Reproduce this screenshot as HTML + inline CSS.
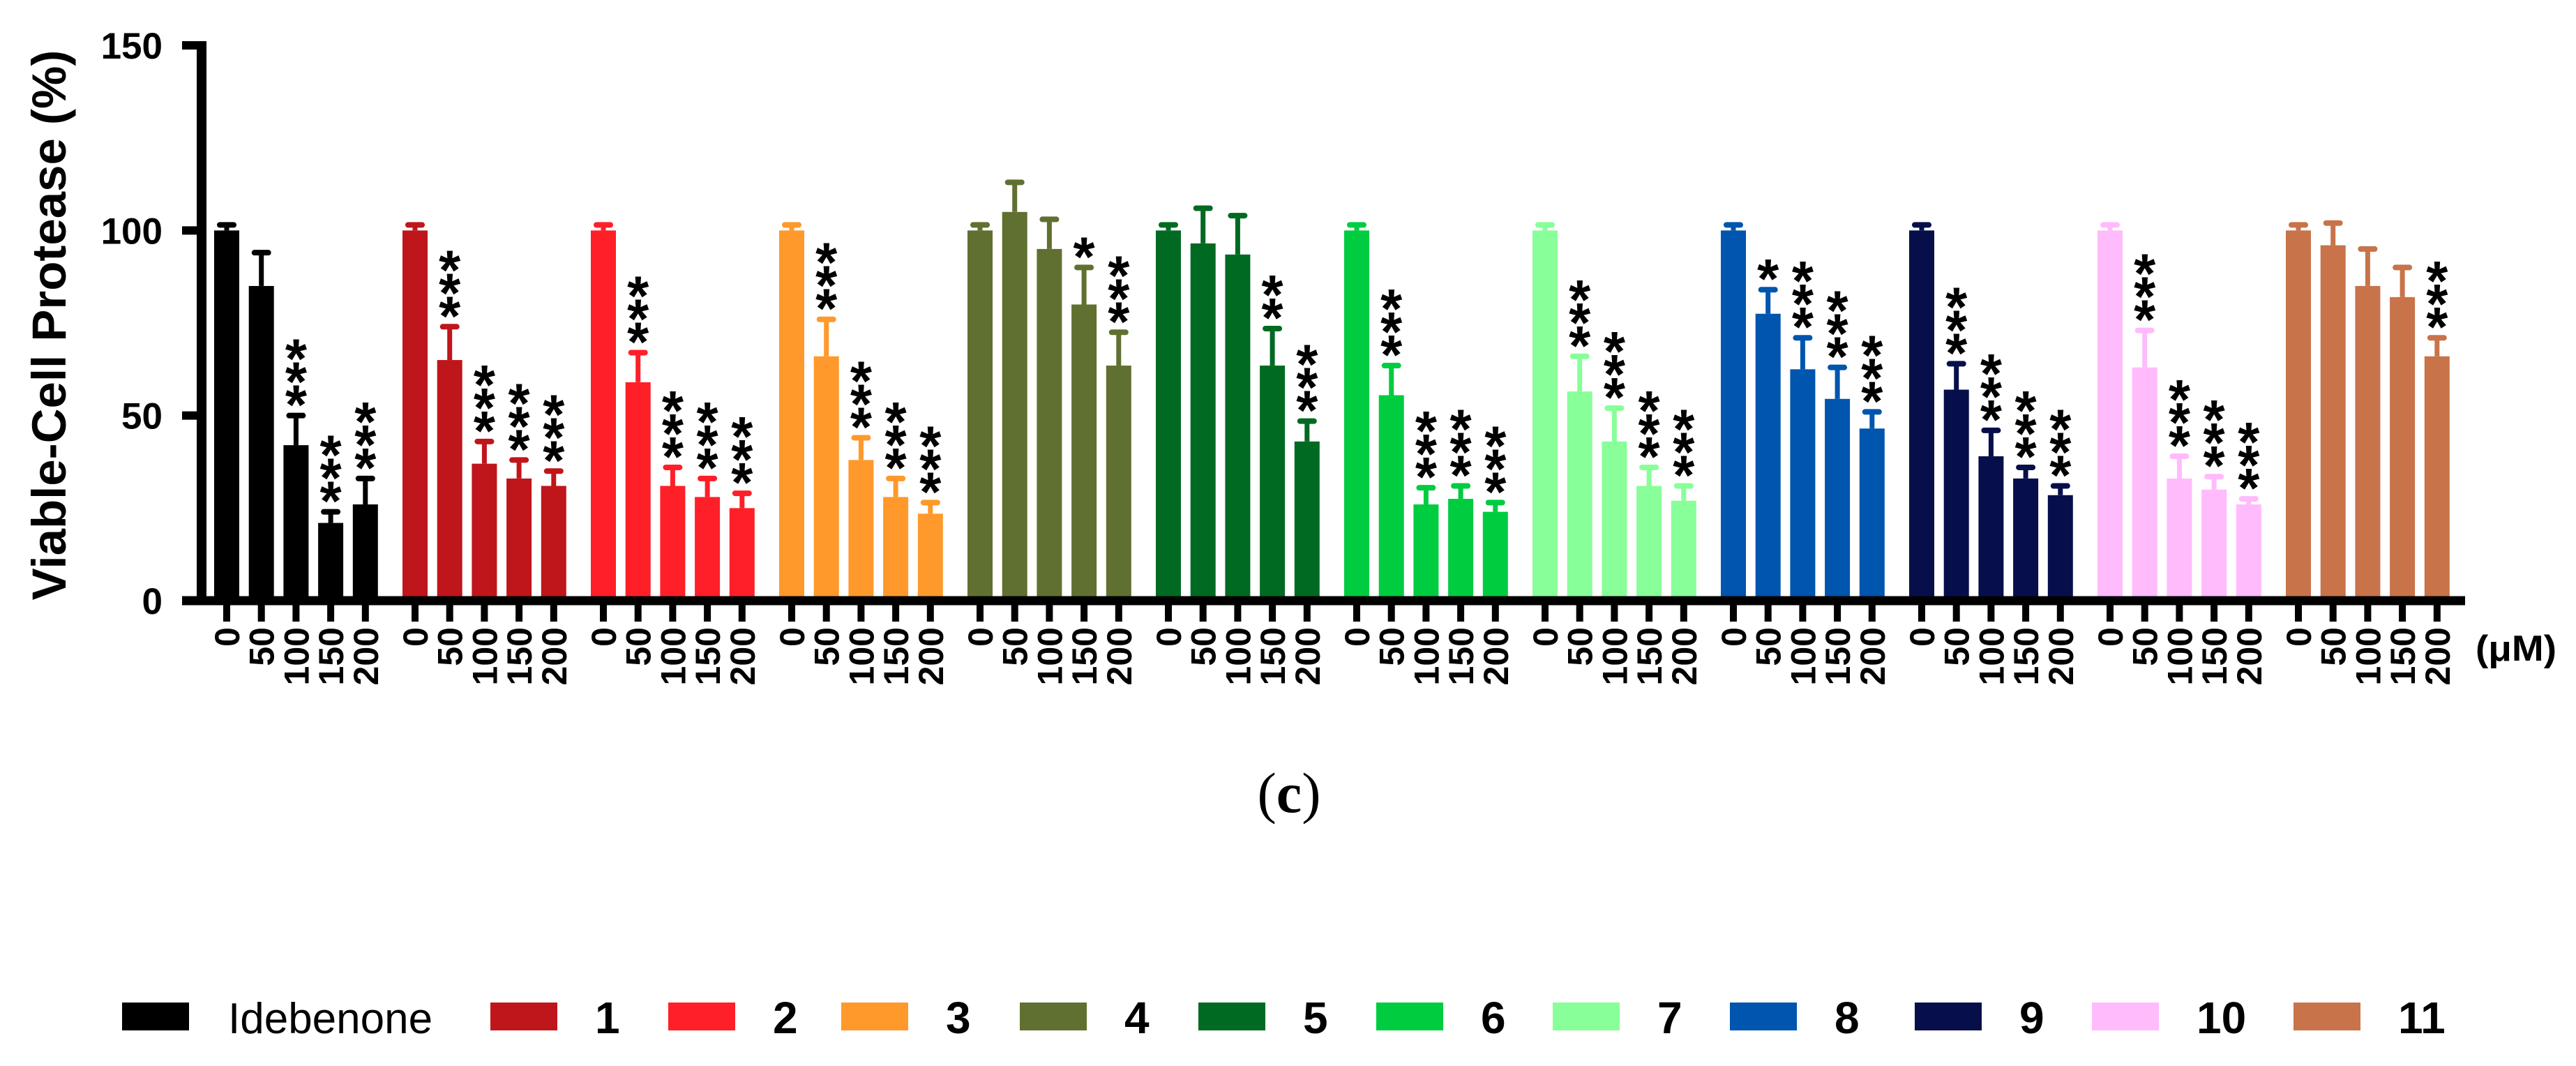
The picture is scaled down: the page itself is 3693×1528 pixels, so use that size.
<!DOCTYPE html>
<html><head><meta charset="utf-8"><style>
html,body{margin:0;padding:0;background:#fff;}
svg{display:block;}
text{font-family:"Liberation Sans",Arial,sans-serif;}
text.serif{font-family:"Liberation Serif","DejaVu Serif",serif;}
</style></head><body>
<svg id="chart" width="3693" height="1528" viewBox="0 0 3693 1528" xmlns="http://www.w3.org/2000/svg">
<g id="plot"></g>
<text x="0" y="0" transform="translate(94,466) rotate(-90)" text-anchor="middle" font-size="69" font-weight="bold">Viable-Cell Protease (%)</text>
<text x="3549" y="947" font-size="52" font-weight="bold" textLength="116" lengthAdjust="spacingAndGlyphs">(μM)</text>
<text class="serif" x="1848" y="1164" text-anchor="middle" font-size="82">(<tspan font-weight="bold">c</tspan>)</text>
<g id="legend"></g>
</svg>
<script>
const groups = ["Idebenone","1","2","3","4","5","6","7","8","9","10","11"];
const doses = ["0","50","100","150","200"];
const colors = ["#000000","#BF161B","#FF1F28","#FF992B","#607030","#006A22","#00CC40","#88FF99","#0055AE","#060F4A","#FFBBFC","#C8734A"];
const means = [
 [100,85,42,21,26],[100,65,37,33,31],[100,59,31,28,25],[100,66,38,28,23.5],
 [100,105,95,80,63.5],[100,96.5,93.5,63.5,43],[100,55.5,26,27.5,24],[100,56.5,43,31,27],
 [100,77.5,62.5,54.5,46.5],[100,57,39,33,28.5],[100,63,33,30,26],[100,96,85,82,66]];
const errTops = [
 [101.5,94,50,24,33],[101.5,74,43,38,35],[101.5,67,36,33,29],[101.5,76,44,33,26.5],
 [101.5,113,103,90,72.5],[101.5,106,104,73.5,48.5],[101.5,63.5,30.5,31,26.5],[101.5,66,52,36,31],
 [101.5,84,71,63,51],[101.5,64,46,36,31],[101.5,73,39,33.5,27.5],[101.5,102,95,90,71]];
const stars = [
 ["","","***","***","***"],["","***","***","***","***"],["","***","***","***","***"],["","***","***","***","***"],
 ["","","","*","***"],["","","","**","***"],["","***","***","***","***"],["","***","***","***","***"],
 ["","*","***","***","***"],["","***","***","***","***"],["","***","***","***","***"],["","","","","***"]];
const yTicks = [0,50,100,150];

const NS="http://www.w3.org/2000/svg";
const y0=861, pxPerUnit=(861-65)/150;
function yScale(v){return y0 - v*pxPerUnit;}
function xScale(g,i){return 325 + g*270 + i*49.7;}
function mk(tag,attrs,parent){const e=document.createElementNS(NS,tag);for(const k in attrs)e.setAttribute(k,attrs[k]);parent.appendChild(e);return e;}
const plot=document.getElementById('plot');
const barW=36;
groups.forEach((gName,g)=>{
  doses.forEach((d,i)=>{
    const cx=xScale(g,i), v=means[g][i], e=errTops[g][i], c=colors[g];
    const bar=mk('rect',{x:cx-barW/2,y:yScale(v),width:barW,height:y0-yScale(v),fill:c},plot);
    
    
    const eb=mk('line',{x1:cx,x2:cx,y1:yScale(v),y2:yScale(e),stroke:c,'stroke-width':7},plot);
    
    
    const cap=mk('line',{x1:cx-10,x2:cx+10,y1:yScale(e),y2:yScale(e),stroke:c,'stroke-width':8,'stroke-linecap':'round'},plot);
    
    
    const s=stars[g][i];
    for(let k=0;k<s.length;k++){
      const cy=yScale(e)-32-k*33;
      const st=mk('text',{x:cx,y:cy+44,'text-anchor':'middle','font-size':80,'font-weight':'bold'},plot);
      st.textContent='*';
      
      
    }
    const tk=mk('line',{x1:cx,x2:cx,y1:y0,y2:891,stroke:'#000','stroke-width':10},plot);
    
    
    const tl=mk('text',{transform:'translate('+(cx+18)+',899) rotate(-90)','text-anchor':'end','font-size':50,'font-weight':'bold'},plot);
    tl.textContent=d;
    
    
  });
});
yTicks.forEach(t=>{
  const yy=yScale(t);
  const tk=mk('line',{x1:261,x2:289,y1:yy,y2:yy,stroke:'#000','stroke-width':12},plot);
  
  
  const tl=mk('text',{x:233,y:yy+19,'text-anchor':'end','font-size':53,'font-weight':'bold'},plot);
  tl.textContent=t;
  
  
});
const ya=mk('line',{x1:289,x2:289,y1:59,y2:867,stroke:'#000','stroke-width':14},plot);


const xa=mk('line',{x1:261,x2:3534,y1:y0,y2:y0,stroke:'#000','stroke-width':13},plot);



const legend=document.getElementById('legend');
const lgPatchX=[175,703,958,1206,1462,1718,1973,2226,2480,2745,2999,3288];
groups.forEach((gName,g)=>{
  const px=lgPatchX[g];
  const r=mk('rect',{x:px,y:1437,width:96,height:40,fill:colors[g]},legend);
  
  
  const t=mk('text',{x:px+(g===0?152:150),y:1481,'font-size':g===0?62:64,'font-weight':g===0?'normal':'bold'},legend);
  t.textContent=gName;
  
  
});
</script>
</body></html>
